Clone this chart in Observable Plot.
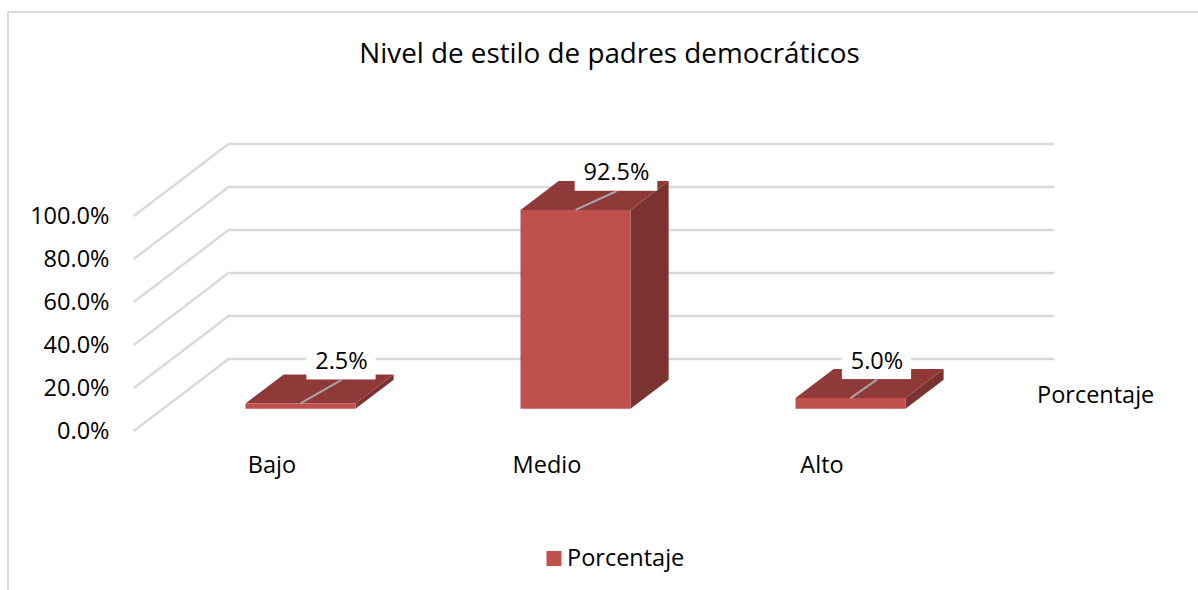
<!DOCTYPE html>
<html lang="es">
<head>
<meta charset="utf-8">
<script src="https://cdn.jsdelivr.net/npm/d3@7"></script>
<script src="https://cdn.jsdelivr.net/npm/@observablehq/plot@0.6"></script>
<style>
  html, body { margin: 0; padding: 0; background: #fff; overflow: hidden; }
  #frame { position: absolute; left: 7px; top: 11px; right: -4px; bottom: -4px; border: 2px solid #d9d9d9; }
  #chart { position: absolute; left: 0; top: 0; }
  #chart svg { display: block; }
</style>
</head>
<body>
<div id="frame"></div>
<div id="chart"></div>
<script>
const title = "Nivel de estilo de padres democráticos";
const seriesName = "Porcentaje";
const categories = ["Bajo", "Medio", "Alto"];
const values = [2.5, 92.5, 5.0];
const valueLabels = ["2.5%", "92.5%", "5.0%"];
const yTicks = [0, 20, 40, 60, 80, 100];
const yTickLabels = ["0.0%", "20.0%", "40.0%", "60.0%", "80.0%", "100.0%"];

// Manually placed data labels: shift from the bar's front-top centre and half width (px)
const labelShiftX = [41, 41, 26.5];
const labelShiftY = [23.5, 18.7, 18.5];
const labelHalfWidth = [34.6, 41.3, 34.6];

// Chart geometry
const width = 1198, height = 590;
const margin = {left: 134, right: 239, top: 215, bottom: 160};
const xPerPx = 3 / (width - margin.left - margin.right);
const yPerPx = 100 / (height - margin.top - margin.bottom);
const depthX = 94 * xPerPx, depthY = 71.5 * yPerPx;   // oblique projection of the depth axis
const barFront = 0.303, barBack = 0.709, barHalf = 0.2;
const labelHeightPx = 40;

const colors = {front: "#c0504d", top: "#8f3a38", side: "#7a3331", grid: "#d9d9d9", leader: "#a6a6a6"};

// Project a (category position, value, depth) to the plane of the scales
const P = (x, v, d, id) => ({x: x + d * depthX, y: v + d * depthY, id});

const gridPaths = yTicks.flatMap(v => [
  P(-0.5, v, 0, v), P(-0.5, v, 1, v), P(2.5, v, 1, v)
]);
const faces = (fn) => values.flatMap((v, i) => fn(v, i));
const frontFaces = faces((v, i) => [
  P(i - barHalf, 0, barFront, i), P(i + barHalf, 0, barFront, i),
  P(i + barHalf, v, barFront, i), P(i - barHalf, v, barFront, i)
]);
const topFaces = faces((v, i) => [
  P(i - barHalf, v, barFront, i), P(i + barHalf, v, barFront, i),
  P(i + barHalf, v, barBack, i), P(i - barHalf, v, barBack, i)
]);
const sideFaces = faces((v, i) => [
  P(i + barHalf, 0, barFront, i), P(i + barHalf, 0, barBack, i),
  P(i + barHalf, v, barBack, i), P(i + barHalf, v, barFront, i)
]);

const labels = values.map((v, i) => {
  const a = P(i, v, barFront, i);
  const cx = a.x + labelShiftX[i] * xPerPx;
  const bottom = a.y + labelShiftY[i] * yPerPx;
  return {
    ax: a.x, ay: a.y, cx, bottom,
    x1: cx - labelHalfWidth[i] * xPerPx, x2: cx + labelHalfWidth[i] * xPerPx,
    top: bottom + labelHeightPx * yPerPx,
    cy: bottom + labelHeightPx / 2 * yPerPx,
    text: valueLabels[i]
  };
});

const fontFamily = "'Open Sans', sans-serif";
const fontSize = 23.5;
const polygon = (data, fill) => Plot.line(data, {x: "x", y: "y", z: "id", fill, stroke: "none"});

const chart = Plot.plot({
  width, height,
  marginLeft: margin.left, marginRight: margin.right, marginTop: margin.top, marginBottom: margin.bottom,
  style: {fontFamily, fontSize: fontSize + "px", color: "#000", background: "transparent", overflow: "visible"},
  x: {domain: [-0.5, 2.5]},
  y: {domain: [0, 100]},
  marks: [
    Plot.line(gridPaths, {x: "x", y: "y", z: "id", stroke: colors.grid, strokeWidth: 2.3}),
    polygon(sideFaces, colors.side),
    polygon(topFaces, colors.top),
    polygon(frontFaces, colors.front),
    Plot.axisY(yTicks, {anchor: "left", tickSize: 0, tickPadding: 25, dy: 0.5, label: null,
      tickFormat: v => yTickLabels[yTicks.indexOf(v)], fontSize}),
    Plot.axisX(categories.map((_, i) => i), {anchor: "bottom", tickSize: 0, tickPadding: 26, label: null,
      tickFormat: i => categories[i], fontSize}),
    Plot.rect(labels, {x1: "x1", x2: "x2", y1: "bottom", y2: "top", fill: "#fff"}),
    Plot.link(labels, {x1: "ax", y1: "ay", x2: "cx", y2: "bottom", stroke: colors.leader, strokeWidth: 2}),
    Plot.text(labels, {x: "cx", y: "cy", dy: 1.5, text: "text", fontSize, fill: "#000"}),
    Plot.text([title], {frameAnchor: "top", dx: 62.5, dy: -172, fontSize: 27.8, fill: "#000"}),
    Plot.text([seriesName], {frameAnchor: "bottom-left", dx: 902.5, dy: -28, textAnchor: "start", fontSize, fill: "#000"}),
    Plot.dot([seriesName], {frameAnchor: "bottom-left", dx: 419.5, dy: 128, symbol: "square", r: 8.5, fill: colors.front, stroke: "none"}),
    Plot.text([seriesName], {frameAnchor: "bottom-left", dx: 432.5, dy: 135, textAnchor: "start", fontSize, fill: "#000"})
  ]
});
document.getElementById("chart").append(chart);
</script>
</body>
</html>
